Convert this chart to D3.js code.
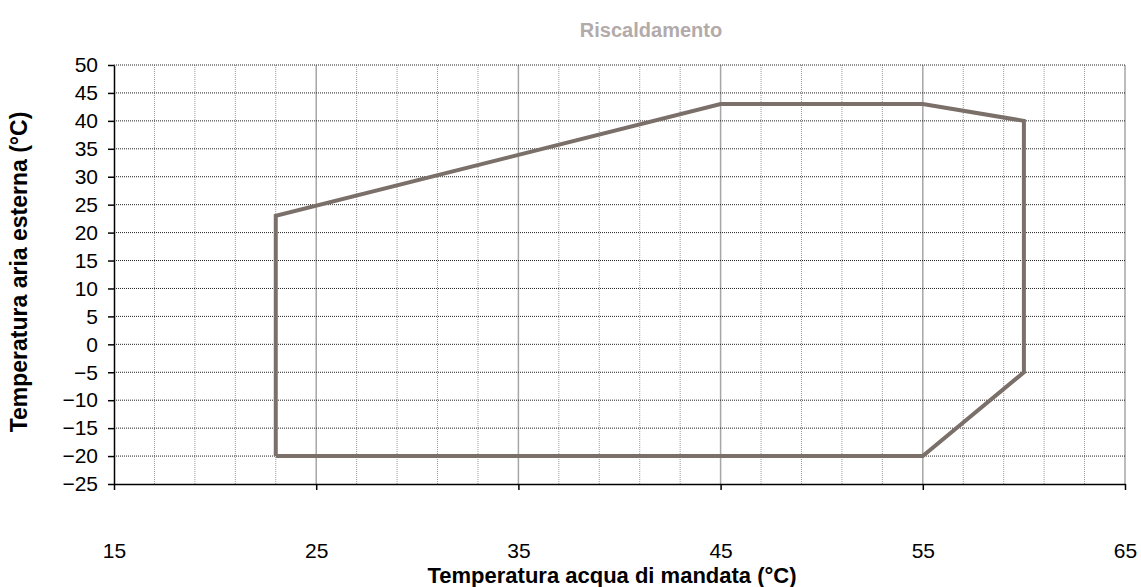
<!DOCTYPE html>
<html>
<head>
<meta charset="utf-8">
<script src="https://cdn.jsdelivr.net/npm/d3@7"></script>
<style>
  body { margin: 0; background: #fff; }
  svg { font-family: "Liberation Sans", Arial, sans-serif; }
</style>
</head>
<body>
<div id="chart"></div>
<script>
// envelope corners (water temp, air temp)
const waterTemp = [23, 23, 45, 55, 60, 60, 55, 23];
const airTemp = [-20, 23, 43, 43, 40, -5, -20, -20];
const xTicks = [15, 25, 35, 45, 55, 65];
const xMinor = [17, 19, 21, 23, 27, 29, 31, 33, 37, 39, 41, 43, 47, 49, 51, 53, 57, 59, 61, 63];
const yTicks = [-25, -20, -15, -10, -5, 0, 5, 10, 15, 20, 25, 30, 35, 40, 45, 50];

const W = 1141, H = 587;
var margin = {top: 65, right: 16, bottom: 103, left: 114},
    width = W - margin.left - margin.right,
    height = H - margin.top - margin.bottom;

var svg = d3.select("#chart").append("svg")
    .attr("width", W)
    .attr("height", H);

var g = svg.append("g")
    .attr("transform", "translate(" + margin.left + "," + margin.top + ")");

var x = d3.scaleLinear().domain([15, 65]).range([0, width]);
var y = d3.scaleLinear().domain([-25, 50]).range([height, 0]);

// minor vertical grid (dotted gray)
g.selectAll(".vminor")
    .data(xMinor)
    .enter().append("line")
    .attr("x1", d => x(d)).attr("x2", d => x(d))
    .attr("y1", 0).attr("y2", height)
    .attr("stroke", "#9a9a9a")
    .attr("stroke-width", 1)
    .attr("stroke-dasharray", "1,1");

// major vertical grid (solid gray)
g.selectAll(".vmajor")
    .data(xTicks.slice(1))
    .enter().append("line")
    .attr("x1", d => x(d)).attr("x2", d => x(d))
    .attr("y1", 0).attr("y2", height)
    .attr("stroke", "#a6a6a6")
    .attr("stroke-width", 1.5);

// horizontal grid (dark dotted)
g.selectAll(".hgrid")
    .data(yTicks.slice(1))
    .enter().append("line")
    .attr("x1", 0).attr("x2", width)
    .attr("y1", d => y(d)).attr("y2", d => y(d))
    .attr("stroke", "#222")
    .attr("stroke-width", 1)
    .attr("stroke-dasharray", "1,1");

// axes
var xAxis = g.append("g")
    .attr("transform", "translate(0," + height + ")")
    .call(d3.axisBottom(x).tickValues(xTicks).tickSizeInner(6).tickSizeOuter(0).tickPadding(53));
var yAxis = g.append("g")
    .call(d3.axisLeft(y).tickValues(yTicks).tickSizeInner(6).tickSizeOuter(0).tickPadding(10));

[xAxis, yAxis].forEach(a => {
  a.select(".domain").attr("stroke", "#000").attr("stroke-width", 1.5);
  a.selectAll(".tick line").attr("stroke", "#000").attr("stroke-width", 1.5);
  a.selectAll("text")
      .attr("fill", "#000")
      .style("font-size", "21px")
      .style("font-family", "Liberation Sans, Arial, sans-serif");
});

// envelope
var line = d3.line()
    .x((d, i) => x(waterTemp[i]))
    .y((d, i) => y(airTemp[i]));

g.append("path")
    .datum(waterTemp)
    .attr("d", line)
    .attr("fill", "none")
    .attr("stroke", "#7b6f6a")
    .attr("stroke-width", 4)
    .attr("stroke-linejoin", "miter");

// titles
svg.append("text")
    .attr("x", 651).attr("y", 37)
    .attr("text-anchor", "middle")
    .attr("font-weight", "bold")
    .attr("font-size", 20)
    .attr("fill", "#b3aaaa")
    .text("Riscaldamento");

svg.append("text")
    .attr("x", 612).attr("y", 583)
    .attr("text-anchor", "middle")
    .attr("font-weight", "bold")
    .attr("font-size", 22)
    .attr("fill", "#000")
    .text("Temperatura acqua di mandata (°C)");

svg.append("text")
    .attr("transform", "translate(27,272) rotate(-90)")
    .attr("text-anchor", "middle")
    .attr("font-weight", "bold")
    .attr("font-size", 23)
    .attr("fill", "#000")
    .text("Temperatura aria esterna (°C)");
</script>
</body>
</html>
